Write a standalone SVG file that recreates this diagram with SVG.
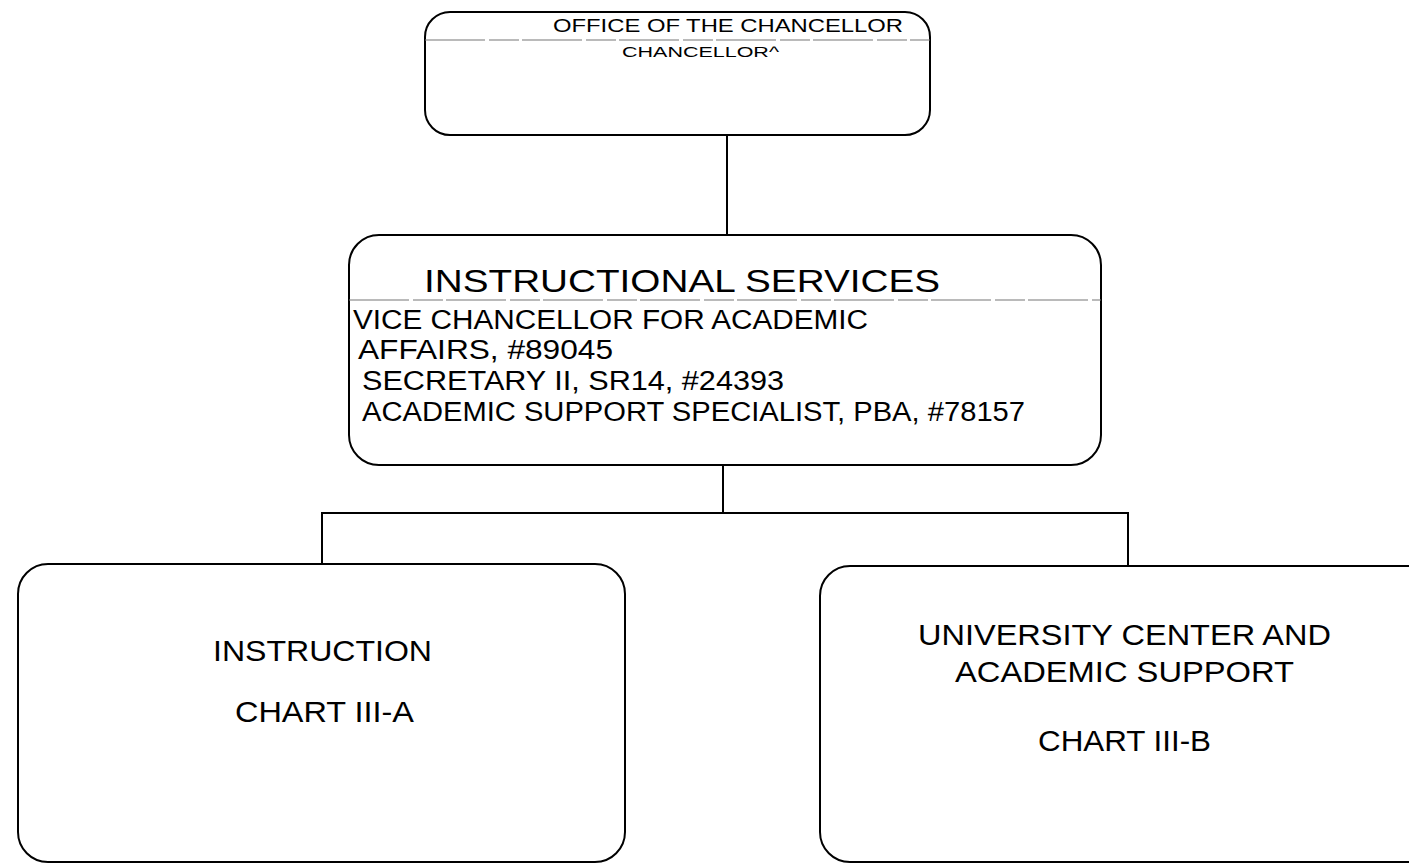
<svg xmlns="http://www.w3.org/2000/svg" width="1409" height="867" viewBox="0 0 1409 867">
<style>
.box{fill:#fff;stroke:#000;stroke-width:2}
.sep{stroke:#777;stroke-width:1.2;stroke-dasharray:60 4 30 3}
.conn{fill:none;stroke:#000;stroke-width:2}
text{font-family:"Liberation Sans",Arial,sans-serif;fill:#000}
</style>
<rect width="1409" height="867" fill="#fff"/>
<g id="connectors">
<line class="conn" x1="727" y1="135" x2="727" y2="236"/>
<polyline class="conn" points="322,565 322,513 1128,513 1128,566"/>
<line class="conn" x1="723" y1="465" x2="723" y2="513"/>
</g>
<g id="office-of-the-chancellor">
<rect class="box" x="425" y="12" width="505" height="123" rx="25"/>
<line class="sep" x1="425" y1="40" x2="930" y2="40"/>
<text x="553" y="32" font-size="19" textLength="350" lengthAdjust="spacingAndGlyphs">OFFICE OF THE CHANCELLOR</text>
<text x="622" y="57" font-size="15" textLength="157" lengthAdjust="spacingAndGlyphs">CHANCELLOR^</text>
</g>
<g id="instructional-services">
<rect class="box" x="349" y="235" width="752" height="230" rx="30"/>
<line class="sep" x1="349" y1="300" x2="1101" y2="300"/>
<text x="424" y="292" font-size="31" textLength="516" lengthAdjust="spacingAndGlyphs">INSTRUCTIONAL SERVICES</text>
<text x="353" y="329" font-size="27" textLength="515" lengthAdjust="spacingAndGlyphs">VICE CHANCELLOR FOR ACADEMIC</text>
<text x="358" y="359" font-size="27" textLength="255" lengthAdjust="spacingAndGlyphs">AFFAIRS, #89045</text>
<text x="362" y="390" font-size="27" textLength="422" lengthAdjust="spacingAndGlyphs">SECRETARY II, SR14, #24393</text>
<text x="362" y="421" font-size="27" textLength="663" lengthAdjust="spacingAndGlyphs">ACADEMIC SUPPORT SPECIALIST, PBA, #78157</text>
</g>
<g id="instruction">
<rect class="box" x="18" y="564" width="607" height="298" rx="30"/>
<text x="213" y="661" font-size="30" textLength="219" lengthAdjust="spacingAndGlyphs">INSTRUCTION</text>
<text x="235" y="722" font-size="30" textLength="179" lengthAdjust="spacingAndGlyphs">CHART III-A</text>
</g>
<g id="university-center">
<rect class="box" x="820" y="566" width="620" height="296" rx="30"/>
<text x="918" y="645" font-size="30" textLength="413" lengthAdjust="spacingAndGlyphs">UNIVERSITY CENTER AND</text>
<text x="955" y="682" font-size="30" textLength="339" lengthAdjust="spacingAndGlyphs">ACADEMIC SUPPORT</text>
<text x="1038" y="751" font-size="30" textLength="173" lengthAdjust="spacingAndGlyphs">CHART III-B</text>
</g>
</svg>
